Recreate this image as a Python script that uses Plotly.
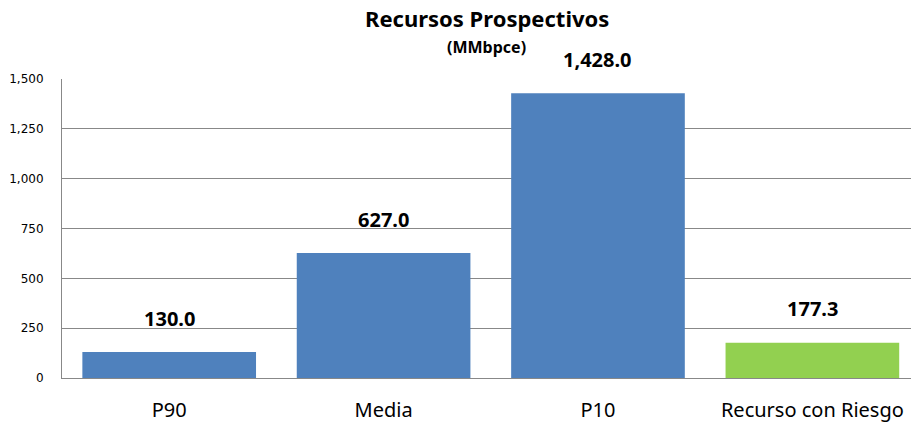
import plotly.graph_objects as go

categories = ["P90", "Media", "P10", "Recurso con Riesgo"]
values = [130.0, 627.0, 1428.0, 177.3]
colors = ["#4F81BD", "#4F81BD", "#4F81BD", "#92D050"]
tick_vals = [0, 250, 500, 750, 1000, 1250, 1500]

fig = go.Figure()
fig.add_trace(go.Bar(x=categories, y=values, marker=dict(color=colors, line=dict(width=0)),
                     width=0.81, hoverinfo="skip"))

for c, v in zip(categories, values):
    fig.add_annotation(x=c, y=v, text=f"<b>{v:,.1f}</b>", showarrow=False,
                       yanchor="middle", yshift=34,
                       font=dict(family="Noto Sans", size=20, color="#000"))

fig.add_annotation(xref="paper", yref="paper", x=0.5, y=1, yanchor="middle", yshift=61,
                   text="<b>Recursos Prospectivos</b>", showarrow=False,
                   font=dict(family="Noto Sans", size=22, color="#000"))
fig.add_annotation(xref="paper", yref="paper", x=0.5, y=1, yanchor="middle", yshift=32,
                   text="<b>(MMbpce)</b>", showarrow=False,
                   font=dict(family="Noto Sans", size=16, color="#000"))

fig.update_layout(
    width=911, height=424,
    margin=dict(l=62, r=0, t=79, b=46),
    paper_bgcolor="white", plot_bgcolor="white",
    showlegend=False,
    bargap=0.19,
    xaxis=dict(range=[-0.5, 3.46], showgrid=False, showline=True, linecolor="#888",
               linewidth=1, ticks="", tickfont=dict(family="Noto Sans", size=20, color="#000"),
               ticklabelstandoff=14),
    yaxis=dict(range=[0, 1500], tickvals=tick_vals, tickformat=",", showgrid=True,
               gridcolor="#888", gridwidth=1, showline=True, linecolor="#888", linewidth=1,
               zeroline=False, ticks="", ticklabelstandoff=15,
               tickfont=dict(family="DejaVu Sans", size=12, color="#000")),
)

fig.write_html("out.html", config={"displayModeBar": False},
               post_script="document.body.style.margin='0';document.body.style.overflow='hidden';")
